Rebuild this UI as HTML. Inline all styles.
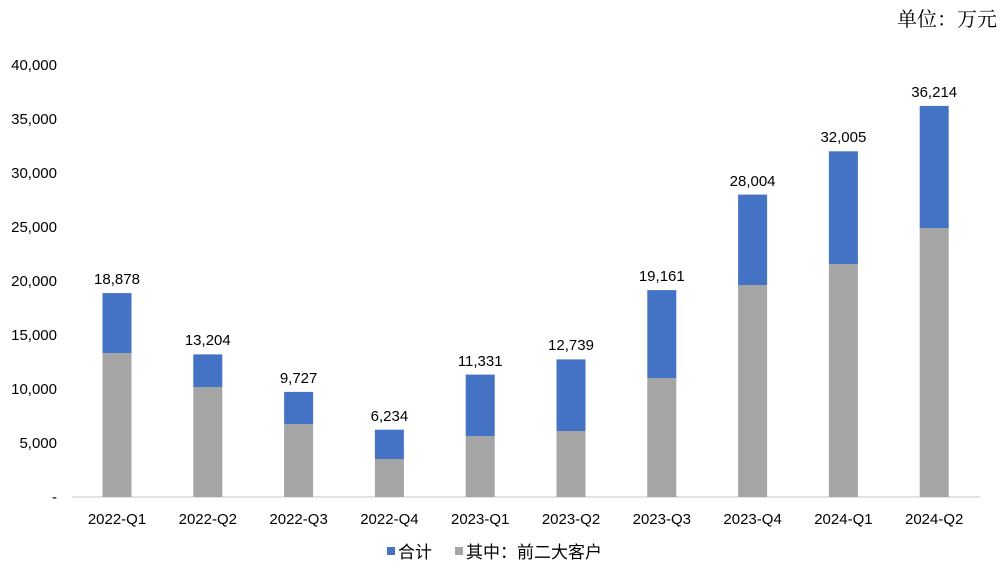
<!DOCTYPE html>
<html><head><meta charset="utf-8"><style>body{margin:0;background:#fff}svg{display:block}</style></head><body>
<svg width="1000" height="569" xmlns="http://www.w3.org/2000/svg" font-family="Liberation Sans, Noto Sans CJK SC, sans-serif">
<text x="997" y="26" text-anchor="end" font-size="20" font-family="Liberation Serif, Noto Serif CJK SC, serif" fill="#000">单位：万元</text>
<g font-size="15" fill="#000" text-anchor="end">
<text x="57" y="502">-</text>
<text x="57" y="448">5,000</text>
<text x="57" y="394">10,000</text>
<text x="57" y="340">15,000</text>
<text x="57" y="286">20,000</text>
<text x="57" y="232">25,000</text>
<text x="57" y="178">30,000</text>
<text x="57" y="124">35,000</text>
<text x="57" y="70">40,000</text>
</g>
<line x1="72" y1="497" x2="980" y2="497" stroke="#d9d9d9" stroke-width="1.5"/>
<g fill="#4472C4">
<rect x="102.5" y="293.1" width="29" height="59.9"/>
<rect x="193.3" y="354.4" width="29" height="32.6"/>
<rect x="284.1" y="391.9" width="29" height="32.1"/>
<rect x="374.9" y="429.7" width="29" height="29.3"/>
<rect x="465.7" y="374.6" width="29" height="61.4"/>
<rect x="556.5" y="359.4" width="29" height="71.6"/>
<rect x="647.3" y="290.1" width="29" height="87.9"/>
<rect x="738.1" y="194.6" width="29" height="90.4"/>
<rect x="828.9" y="151.3" width="29" height="112.7"/>
<rect x="919.7" y="105.9" width="29" height="122.1"/>
</g>
<g fill="#A5A5A5">
<rect x="102.5" y="353" width="29" height="144"/>
<rect x="193.3" y="387" width="29" height="110"/>
<rect x="284.1" y="424" width="29" height="73"/>
<rect x="374.9" y="459" width="29" height="38"/>
<rect x="465.7" y="436" width="29" height="61"/>
<rect x="556.5" y="431" width="29" height="66"/>
<rect x="647.3" y="378" width="29" height="119"/>
<rect x="738.1" y="285" width="29" height="212"/>
<rect x="828.9" y="264" width="29" height="233"/>
<rect x="919.7" y="228" width="29" height="269"/>
</g>
<g font-size="15" fill="#000" text-anchor="middle">
<text x="117" y="284">18,878</text>
<text x="207.8" y="345">13,204</text>
<text x="298.6" y="383">9,727</text>
<text x="389.4" y="421">6,234</text>
<text x="480.2" y="366">11,331</text>
<text x="571" y="350">12,739</text>
<text x="661.8" y="281">19,161</text>
<text x="752.6" y="186">28,004</text>
<text x="843.4" y="142">32,005</text>
<text x="934.2" y="97">36,214</text>
<text x="117" y="524">2022-Q1</text>
<text x="207.8" y="524">2022-Q2</text>
<text x="298.6" y="524">2022-Q3</text>
<text x="389.4" y="524">2022-Q4</text>
<text x="480.2" y="524">2023-Q1</text>
<text x="571" y="524">2023-Q2</text>
<text x="661.8" y="524">2023-Q3</text>
<text x="752.6" y="524">2023-Q4</text>
<text x="843.4" y="524">2024-Q1</text>
<text x="934.2" y="524">2024-Q2</text>
</g>
<rect x="387" y="547" width="8" height="8" fill="#4472C4"/>
<text x="398" y="558" font-size="17">合计</text>
<rect x="455" y="547" width="8" height="8" fill="#A5A5A5"/>
<text x="466" y="558" font-size="17">其中：前二大客户</text>
</svg>
</body></html>
